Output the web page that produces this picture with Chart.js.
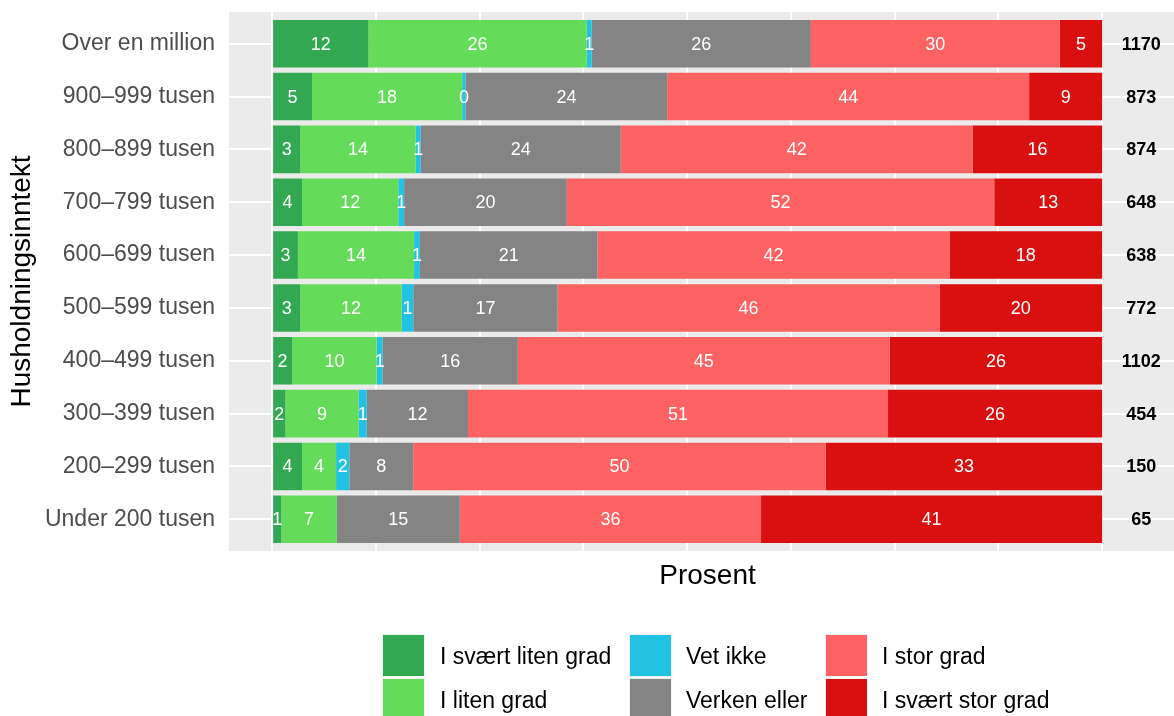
<!DOCTYPE html>
<html>
<head>
<meta charset="utf-8">
<script src="https://cdn.jsdelivr.net/npm/chart.js@4"></script>
<style>
  html, body { margin: 0; padding: 0; background: #fff; }
  #wrap { position: relative; width: 1174px; height: 716px; overflow: hidden; font-family: "Liberation Sans", Arial, sans-serif; }
  #chart { position: absolute; left: 0; top: 0; }
  .key { position: absolute; width: 41px; height: 41px; border: 1px solid #F2F2F2; }
  .key-text { position: absolute; font-size: 23px; color: #000; line-height: 28px; white-space: nowrap; }
</style>
</head>
<body>
<div id="wrap">
  <!-- panel runs past the right edge, as in the original -->
  <canvas id="chart" width="1186" height="716"></canvas>
  <div id="legend"></div>
</div>
<script>
// income groups, top to bottom
const categories = [
  'Over en million', '900–999 tusen', '800–899 tusen', '700–799 tusen', '600–699 tusen',
  '500–599 tusen', '400–499 tusen', '300–399 tusen', '200–299 tusen', 'Under 200 tusen'
];
const seriesNames = ['I svært liten grad', 'I liten grad', 'Vet ikke', 'Verken eller', 'I stor grad', 'I svært stor grad'];
const seriesColors = ['#32A852', '#65DC59', '#22C3E2', '#848484', '#FE6262', '#DA1010'];

// percent per group
const veryLow  = [11.6, 4.8, 3.4, 3.6, 3.1, 3.4, 2.4, 1.6, 3.6, 1.1];
const low      = [26.3, 18.1, 13.9, 11.6, 14.0, 12.2, 10.2, 8.8, 4.1, 6.7];
const dontKnow = [0.6, 0.4, 0.6, 0.7, 0.7, 1.4, 0.7, 1.0, 1.6, 0];
const neither  = [26.4, 24.3, 24.1, 19.6, 21.4, 17.4, 16.3, 12.2, 7.7, 14.8];
const high     = [30.0, 43.6, 42.4, 51.5, 42.4, 46.0, 44.8, 50.6, 49.7, 36.3];
const veryHigh = [5.1, 8.8, 15.6, 13.0, 18.4, 19.6, 25.6, 25.8, 33.3, 41.1];
const counts   = [1170, 873, 874, 648, 638, 772, 1102, 454, 150, 65];

const gridSteps = [0, 12.5, 25, 37.5, 50, 62.5, 75, 87.5, 100];
const countPos = 104.7;
const FONT = '"Liberation Sans", Arial, sans-serif';

const seriesValues = [veryLow, low, dontKnow, neither, high, veryHigh];

const panelBg = {
  id: 'panelBg',
  beforeDraw(chart) {
    const a = chart.chartArea, ctx = chart.ctx;
    ctx.save();
    ctx.fillStyle = '#EBEBEB';
    ctx.fillRect(a.left, a.top, a.right - a.left, a.bottom - a.top);
    ctx.restore();
  }
};

// ggplot-style 0.6 expansion of the discrete axis
const discreteExpand = {
  id: 'discreteExpand',
  afterLayout(chart) {
    const y = chart.scales.y;
    y._startValue = -0.6;
    y._valueRange = categories.length - 1 + 1.2;
  }
};

const barLabels = {
  id: 'barLabels',
  afterDatasetsDraw(chart) {
    const ctx = chart.ctx;
    ctx.save();
    ctx.textAlign = 'center';
    ctx.textBaseline = 'middle';
    ctx.font = '18px ' + FONT;
    ctx.fillStyle = '#FFFFFF';
    chart.data.datasets.forEach((ds, i) => {
      chart.getDatasetMeta(i).data.forEach((bar, j) => {
        const v = ds.data[j];
        if (!(v > 0)) return;
        ctx.fillText(String(Math.round(v)), (bar.x + bar.base) / 2, bar.y + 1);
      });
    });
    ctx.font = 'bold 18px ' + FONT;
    ctx.fillStyle = '#000';
    const xs = chart.scales.x, ys = chart.scales.y;
    counts.forEach((n, j) => {
      ctx.fillText(String(n), xs.getPixelForValue(countPos), ys.getPixelForValue(j) + 1);
    });
    ctx.restore();
  }
};

new Chart(document.getElementById('chart'), {
  type: 'bar',
  data: {
    labels: categories,
    datasets: seriesNames.map((name, i) => ({
      label: name,
      data: seriesValues[i],
      backgroundColor: seriesColors[i],
      borderWidth: 0,
      barPercentage: 0.9,
      categoryPercentage: 1
    }))
  },
  options: {
    indexAxis: 'y',
    responsive: false,
    devicePixelRatio: 1,
    animation: false,
    layout: { padding: { top: 12, bottom: 115, left: 0, right: 0 } },
    plugins: { legend: { display: false }, tooltip: { enabled: false } },
    scales: {
      x: {
        stacked: true,
        min: -5.2,
        max: 110.1,
        afterBuildTicks: s => { s.ticks = gridSteps.map(v => ({ value: v })); },
        afterFit: s => { s.height = 50; s.paddingLeft = 0; s.paddingRight = 0; },
        ticks: { display: false },
        grid: { color: '#FFFFFF', lineWidth: 2, drawTicks: false },
        border: { display: false },
        title: { display: true, text: 'Prosent', color: '#000', font: { family: FONT, size: 28 }, padding: { top: 0, bottom: 8 } }
      },
      y: {
        stacked: true,
        afterFit: s => { s.width = 229; s.paddingTop = 0; s.paddingBottom = 0; },
        ticks: { color: '#4D4D4D', font: { family: FONT, size: 23 }, padding: 14, autoSkip: false },
        grid: { color: '#FFFFFF', lineWidth: 2, drawTicks: false, offset: false },
        border: { display: false },
        title: { display: true, text: 'Husholdningsinntekt', color: '#000', font: { family: FONT, size: 28 }, padding: { top: 5, bottom: 0 } }
      }
    }
  },
  plugins: [panelBg, discreteExpand, barLabels]
});

// legend, filled column by column like ggplot
const legend = document.getElementById('legend');
const keyLeft = [382, 629, 825];
const textLeft = [440, 686, 882];
const keyTop = [634, 678];
seriesNames.forEach((name, i) => {
  const col = Math.floor(i / 2), row = i % 2;
  const k = document.createElement('div');
  k.className = 'key';
  k.style.left = keyLeft[col] + 'px';
  k.style.top = keyTop[row] + 'px';
  k.style.background = seriesColors[i];
  legend.appendChild(k);
  const t = document.createElement('div');
  t.className = 'key-text';
  t.textContent = name;
  t.style.left = textLeft[col] + 'px';
  t.style.top = (keyTop[row] + 21.5 - 14) + 'px';
  legend.appendChild(t);
});
</script>
</body>
</html>
